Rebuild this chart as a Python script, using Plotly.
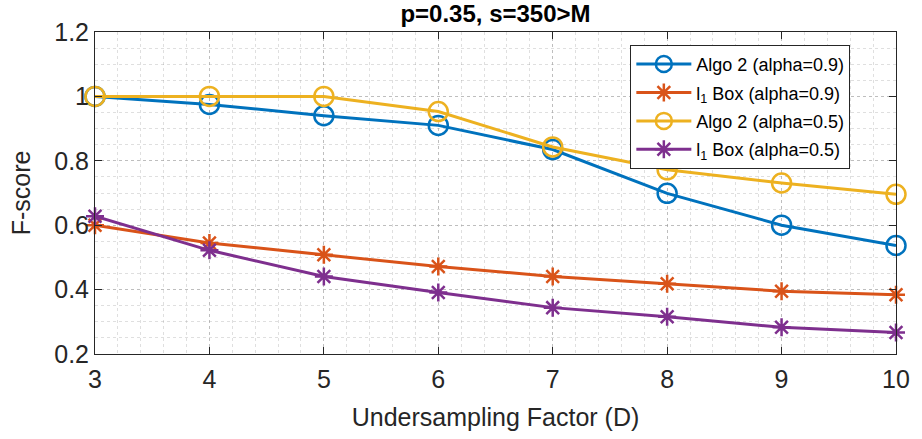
import plotly.graph_objects as go

# Undersampling factors and F-score results
D = [3, 4, 5, 6, 7, 8, 9, 10]
algo2_a09 = [1.0, 0.975, 0.94, 0.91, 0.835, 0.699, 0.60, 0.537]
l1box_a09 = [0.60, 0.545, 0.508, 0.472, 0.441, 0.418, 0.395, 0.384]
algo2_a05 = [1.0, 1.0, 1.0, 0.953, 0.843, 0.772, 0.731, 0.696]
l1box_a05 = [0.628, 0.522, 0.441, 0.391, 0.344, 0.316, 0.283, 0.267]

series = [
    ("Algo 2 (alpha=0.9)", algo2_a09, "#0072BD", "circle-open", 19),
    ("l<sub>1</sub> Box (alpha=0.9)", l1box_a09, "#D95319", "asterisk-open", 15),
    ("Algo 2 (alpha=0.5)", algo2_a05, "#EDB120", "circle-open", 19),
    ("l<sub>1</sub> Box (alpha=0.5)", l1box_a05, "#7E2F8E", "asterisk-open", 15),
]

FONT = "Liberation Sans, Arial, sans-serif"
TXT = "#262626"

fig = go.Figure()
for i, (name, ys, color, sym, size) in enumerate(series):
    fig.add_trace(go.Scatter(
        x=D, y=ys, name=name, mode="lines+markers", legendgroup=f"g{i}",
        line=dict(color=color, width=3),
        marker=dict(symbol=sym, size=size, color=color,
                    line=dict(color=color, width=2.5)),
        cliponaxis=False,
    ))

axis_common = dict(
    showline=True, mirror="ticks", linecolor=TXT, linewidth=1,
    ticks="inside", ticklen=7, tickcolor=TXT,
    tickfont=dict(family=FONT, size=25, color=TXT),
    showgrid=True, gridcolor="rgba(150,150,150,0.45)", griddash="dot", gridwidth=1,
    zeroline=False,
)
minor_grid = dict(showgrid=True, gridcolor="rgba(150,150,150,0.3)",
                  griddash="dot", ticks="")

fig.update_xaxes(
    range=[3, 10], tickvals=list(range(3, 11)),
    minor=dict(dtick=0.2, **minor_grid),
    title=dict(text="Undersampling Factor (D)", standoff=16,
               font=dict(family=FONT, size=25, color=TXT)),
    ticklabelstandoff=3,
    **axis_common,
)
fig.update_yaxes(
    range=[0.2, 1.2], tickvals=[0.2, 0.4, 0.6, 0.8, 1.0, 1.2],
    ticktext=["0.2", "0.4", "0.6", "0.8", "1", "1.2"],
    minor=dict(dtick=0.05, **minor_grid),
    title=dict(text="F-score", standoff=16,
               font=dict(family=FONT, size=25, color=TXT)),
    **axis_common,
)

fig.update_layout(
    width=922, height=439,
    margin=dict(l=95, r=18, t=32, b=84),
    paper_bgcolor="white", plot_bgcolor="white",
    title=dict(text="<b>p=0.35, s=350>M</b>", x=0.5, xref="paper", xanchor="center",
               y=1 - 14 / 439, yref="container", yanchor="middle", pad=dict(t=0),
               font=dict(family=FONT, size=24, color="black")),
    legend=dict(
        x=0.943, y=0.96, xanchor="right", yanchor="top",
        bgcolor="white", bordercolor=TXT, borderwidth=1,
        font=dict(family=FONT, size=18, color="black"),
        tracegroupgap=2, itemwidth=55,
    ),
    showlegend=True,
)

fig.write_html("out.html")
